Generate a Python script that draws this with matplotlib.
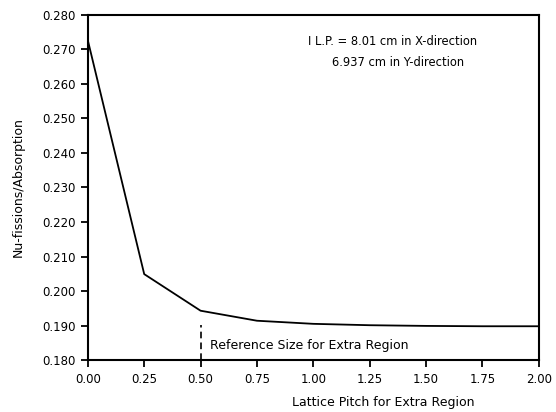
import matplotlib
matplotlib.use('Agg')
import matplotlib.pyplot as plt

# Values
pitch = [0.0, 0.25, 0.50, 0.75, 1.00, 1.25, 1.50, 1.75, 2.00]
ratio = [0.2726, 0.2049, 0.1943, 0.1914, 0.1905, 0.1901, 0.1899, 0.1898, 0.1898]
x_ticks = [0.0, 0.25, 0.50, 0.75, 1.00, 1.25, 1.50, 1.75, 2.00]
x_labels = ['0.00', '0.25', '0.50', '0.75', '1.00', '1.25', '1.50', '1.75', '2.00']
y_ticks = [0.180, 0.190, 0.200, 0.210, 0.220, 0.230, 0.240, 0.250, 0.260, 0.270, 0.280]
ref_pitch = 0.50

plt.rcParams['font.family'] = 'DejaVu Sans'
fig = plt.figure(figsize=(5.56, 4.12), dpi=100)
ax = fig.add_axes([0.158, 0.126, 0.811, 0.838])

ax.plot(pitch, ratio, color='black', lw=1.3)
ax.plot([ref_pitch, ref_pitch], [0.180, 0.1903], color='black', lw=1.2, ls=(0, (4, 2.5)))

ax.set_xlim(0, 2.0)
ax.set_ylim(0.180, 0.280)
ax.set_xticks(x_ticks)
ax.set_xticklabels(x_labels)
ax.set_yticks(y_ticks)
ax.set_yticklabels(['%.3f' % v for v in y_ticks])
ax.tick_params(direction='out', length=5, width=1.3, labelsize=8.5, pad=4)

for s in ax.spines.values():
    s.set_linewidth(1.5)

ax.text(0.541, 0.1843, 'Reference Size for Extra Region', fontsize=9, va='center')
ax.text(0.976, 0.2722, 'I L.P. = 8.01 cm in X-direction', fontsize=8.3, va='center')
ax.text(1.082, 0.2661, '6.937 cm in Y-direction', fontsize=8.3, va='center')

ax.set_ylabel('Nu-fissions/Absorption', fontsize=9, labelpad=12)
ax.set_xlabel('Lattice Pitch for Extra Region', fontsize=9)
ax.xaxis.set_label_coords(0.656, -0.105)

fig.savefig('out.png', dpi=100)
